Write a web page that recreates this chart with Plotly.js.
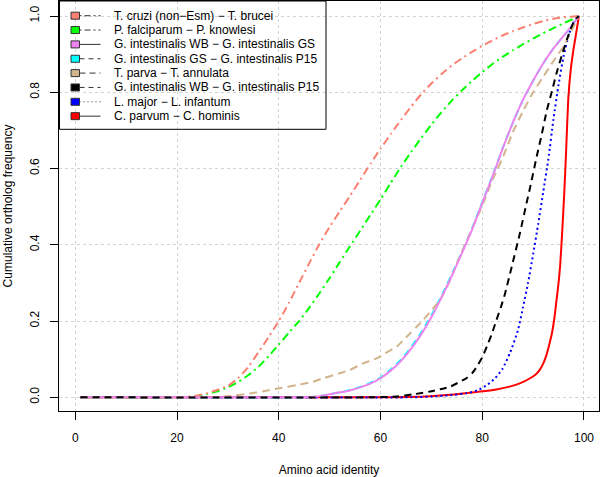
<!DOCTYPE html>
<html><head><meta charset="utf-8">
<script src="https://cdn.plot.ly/plotly-3.0.1.min.js"></script>
<style>html,body{margin:0;padding:0;background:#fff}#chart{width:600px;height:477px}</style>
</head><body><div id="chart"></div>
<script>
// ---- data ----
const seriesNames = [
  "T. cruzi (non\u2212Esm) \u2212 T. brucei",
  "P. falciparum \u2212 P. knowlesi",
  "G. intestinalis WB \u2212 G. intestinalis GS",
  "G. intestinalis GS \u2212 G. intestinalis P15",
  "T. parva \u2212 T. annulata",
  "G. intestinalis WB \u2212 G. intestinalis P15",
  "L. major \u2212 L. infantum",
  "C. parvum \u2212 C. hominis"
];
const seriesColors = ["#FA8072","#00FF00","#EE82EE","#00FFFF","#D2B48C","#000000","#0000FF","#FF0000"];

const tcruziX = [1,20,22,24,26,28,30,32,34,36,38,40,42,44,46,48,50,52,54,56,58,60,62,64,66,68,70,72,74,76,78,80,82,84,86,88,90,92,94,96,98,99];
const tcruziY = [0,0,0.001,0.005,0.011,0.02,0.03,0.05,0.08,0.118,0.158,0.2,0.248,0.3,0.352,0.402,0.447,0.488,0.528,0.57,0.612,0.652,0.69,0.727,0.762,0.795,0.823,0.848,0.87,0.889,0.906,0.922,0.936,0.949,0.96,0.97,0.979,0.987,0.993,0.997,0.999,1.0];

const pfalcX = [1,20,22,24,26,28,30,32,34,36,38,40,42,44,46,48,50,52,54,56,58,60,62,64,66,68,70,72,74,76,78,80,82,84,86,88,90,92,94,96,98,99];
const pfalcY = [0,0,0.001,0.004,0.009,0.016,0.026,0.04,0.058,0.08,0.108,0.138,0.17,0.2,0.235,0.273,0.313,0.355,0.396,0.437,0.478,0.519,0.562,0.604,0.643,0.68,0.715,0.748,0.778,0.805,0.83,0.853,0.874,0.893,0.91,0.926,0.941,0.955,0.968,0.981,0.993,1.0];

const wbgsX = [1,45,47.5,50,52,54,56,58,60,62,64,66,68,70,72,74,76,78,80,82,84,86,88,90,92,94,96,97.5,99];
const wbgsY = [0,0,0.002,0.008,0.013,0.018,0.026,0.036,0.05,0.07,0.095,0.127,0.165,0.21,0.262,0.318,0.378,0.44,0.51,0.578,0.652,0.72,0.78,0.83,0.876,0.915,0.948,0.972,1.0];

const gsp15X = [1,45,47.5,50,52,54,56,58,60,62,64,66,68,70,72,74,76,78,80,82,84,86,88,90,92,94,96,97.5,99];
const gsp15Y = [0,0,0.002,0.008,0.013,0.019,0.027,0.038,0.052,0.073,0.099,0.131,0.17,0.215,0.266,0.322,0.381,0.443,0.512,0.58,0.653,0.72,0.78,0.83,0.876,0.915,0.948,0.972,1.0];

const tparvaX = [1,27,29.1,31.5,34.3,37,40.2,43.5,46.8,48.75,52,54,56.6,59.2,61.5,63.2,64.5,66,67.1,68.4,70,71.7,73.7,75,77.6,80.2,82,84.1,86,88.1,90,92,94,95.9,97.5,99];
const tparvaY = [0,0,0.002,0.005,0.01,0.016,0.024,0.032,0.041,0.05,0.063,0.072,0.089,0.102,0.12,0.133,0.15,0.17,0.185,0.203,0.228,0.255,0.307,0.351,0.43,0.509,0.57,0.631,0.695,0.753,0.8,0.841,0.882,0.919,0.96,1.0];

const wbp15X = [1,58,63.2,66.5,69.7,71.7,73.7,75.5,76.9,78,78.9,80,80.9,81.9,82.8,83.7,84.5,85.8,87.4,88.7,89.4,90.7,91.7,92.7,93.7,94.6,95.6,96.6,97.5,98.2,99];
const wbp15Y = [0,0,0.002,0.008,0.015,0.021,0.028,0.04,0.05,0.063,0.08,0.105,0.133,0.167,0.203,0.238,0.273,0.343,0.43,0.509,0.55,0.631,0.69,0.753,0.803,0.85,0.895,0.937,0.97,0.99,1.0];

const lmajorX = [1,66,70,74,77,79,81,82.5,84,85.5,87,88,89,90,91,92,93,94,95,96,97,98,99];
const lmajorY = [0,0,0.002,0.006,0.011,0.018,0.033,0.05,0.075,0.118,0.175,0.235,0.3,0.375,0.455,0.54,0.625,0.73,0.82,0.895,0.95,0.985,1.0];

const cparvX = [1,60,65,69.7,75,79.6,82.5,85.4,87.5,89.4,90.5,91.3,92,92.6,93.2,93.7,94.2,94.6,95,95.3,95.7,96.1,96.5,96.9,97.4,97.9,98.4,99];
const cparvY = [0,0,0.001,0.003,0.008,0.015,0.02,0.028,0.037,0.05,0.06,0.072,0.089,0.11,0.14,0.168,0.21,0.255,0.3,0.343,0.43,0.53,0.65,0.78,0.86,0.91,0.95,1.0];

const xTicks = [0,20,40,60,80,100];
const yTicks = [0,0.2,0.4,0.6,0.8,1.0];
const yTickText = ["0.0","0.2","0.4","0.6","0.8","1.0"];

// ---- styles ----
const plotDash = ["2px,4px,8px,4px","2px,4px,8px,4px","solid","7px,5px","8px,5px","7px,5px","2px,3px","solid"];
const legendDash = ["2px,3px,6px,3px","2px,3px,6px,3px","solid","5px,4px","6px,4px","5px,4px","1px,3px","solid"];
const seriesX = [tcruziX,pfalcX,wbgsX,gsp15X,tparvaX,wbp15X,lmajorX,cparvX];
const seriesY = [tcruziY,pfalcY,wbgsY,gsp15Y,tparvaY,wbp15Y,lmajorY,cparvY];
const drawOrder = [7,6,3,4,1,0,2,5];

const traces = drawOrder.map(i => ({
  x: seriesX[i], y: seriesY[i], type: "scatter", mode: "lines",
  name: seriesNames[i], showlegend: false, hoverinfo: "skip",
  line: {color: seriesColors[i], width: 2, dash: plotDash[i], shape: "spline", smoothing: 0.5}
}));

// layout geometry in pixels -> paper
const L = 59, R = 1, T = 1, B = 66, W = 600, H = 477;
const pw = W - L - R, ph = H - T - B;
const px = p => (p - L) / pw;
const py = p => (H - B - p) / ph;

const shapes = [];
const annotations = [];
// legend box
shapes.push({type:"rect", xref:"paper", yref:"paper", x0:px(59.5), x1:px(326), y0:py(129.3), y1:py(1), line:{color:"#000", width:1}, fillcolor:"rgba(0,0,0,0)", layer:"above"});
seriesNames.forEach((n, i) => {
  const yc = 15.7 + 14.35 * i;
  shapes.push({type:"line", xref:"paper", yref:"paper", x0:px(79.5), x1:px(100.5), y0:py(yc), y1:py(yc), line:{color:"#333", width:1, dash:legendDash[i]}});
  shapes.push({type:"rect", xref:"paper", yref:"paper", x0:px(71), x1:px(79.5), y0:py(yc+3.5), y1:py(yc-3.5), line:{color:"#333", width:1}, fillcolor:seriesColors[i]});
  annotations.push({xref:"paper", yref:"paper", x:px(111.5), y:py(yc), xanchor:"left", yanchor:"middle", text:n, showarrow:false, font:{size:12, color:"#000"}});
});

const layout = {
  width: W, height: H,
  margin: {l:L, r:R, t:T, b:B, pad:0},
  paper_bgcolor: "#fff", plot_bgcolor: "#fff",
  font: {family: "Liberation Sans, Arial, Helvetica, sans-serif", size: 12, color: "#000"},
  showlegend: false,
  xaxis: {
    range: [-3.2, 102.95], tickvals: xTicks, ticktext: xTicks.map(String),
    ticks: "outside", ticklen: 8, tickwidth: 1, tickcolor: "#000",
    showline: true, mirror: true, linecolor: "#000", linewidth: 1,
    showgrid: true, gridcolor: "#d3d3d3", griddash: "dot", gridwidth: 1, zeroline: false,
    ticklabelstandoff: 8,
    title: {text: "Amino acid identity", font: {size: 12}, standoff: 21},
    automargin: false
  },
  yaxis: {
    range: [-0.0359, 1.0394], tickvals: yTicks, ticktext: yTickText, tickangle: -90,
    ticks: "outside", ticklen: 8, tickwidth: 1, tickcolor: "#000",
    showline: true, mirror: true, linecolor: "#000", linewidth: 1,
    showgrid: true, gridcolor: "#d3d3d3", griddash: "dot", gridwidth: 1, zeroline: false,
    ticklabelstandoff: 6,
    title: {text: "Cumulative ortholog frequency", font: {size: 12}, standoff: 13},
    automargin: false
  },
  shapes: shapes,
  annotations: annotations
};

Plotly.newPlot("chart", traces, layout, {displayModeBar: false, staticPlot: true});
</script>
</body></html>
